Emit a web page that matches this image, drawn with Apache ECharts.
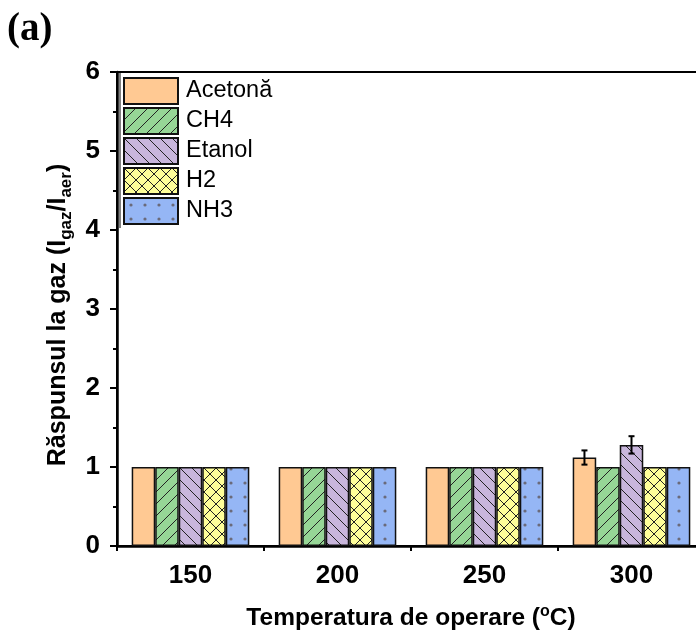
<!DOCTYPE html>
<html>
<head>
<meta charset="utf-8">
<script src="https://cdn.jsdelivr.net/npm/echarts@6/dist/echarts.min.js"></script>
<style>
html,body{margin:0;padding:0;background:#fff;overflow:hidden;width:696px;height:635px;}
#chart{width:720px;height:635px;}
</style>
</head>
<body>
<div id="chart"></div>
<script>
const categories = ['150', '200', '250', '300'];
const seriesNames = ['Acetonă', 'CH4', 'Etanol', 'H2', 'NH3'];
const acetona = [1, 1, 1, 1.12];
const ch4 = [1, 1, 1, 1];
const etanol = [1, 1, 1, 1.28];
const h2 = [1, 1, 1, 1];
const nh3 = [1, 1, 1, 1];
const acetonaErr = [0, 0, 0, 0.09];
const ch4Err = [0, 0, 0, 0];
const etanolErr = [0, 0, 0, 0.11];
const h2Err = [0, 0, 0, 0];
const nh3Err = [0, 0, 0, 0];
const yTicks = [0, 1, 2, 3, 4, 5, 6];

const FONT = 'Liberation Sans, Arial, sans-serif';

function makePattern(bg, type) {
  const s = type === 'dots' ? 14 : 12;
  const c = document.createElement('canvas');
  c.width = s; c.height = s;
  const g = c.getContext('2d');
  g.fillStyle = bg;
  g.fillRect(0, 0, s, s);
  g.strokeStyle = '#222';
  g.lineWidth = 1;
  if (type === 'fwd' || type === 'cross') {
    g.beginPath();
    for (let k = -1; k <= 1; k++) { g.moveTo(k * s, s); g.lineTo(k * s + s, 0); }
    g.stroke();
  }
  if (type === 'back' || type === 'cross') {
    g.beginPath();
    for (let k = -1; k <= 1; k++) { g.moveTo(k * s, 0); g.lineTo(k * s + s, s); }
    g.stroke();
  }
  if (type === 'dots') {
    g.fillStyle = '#6a6a7a';
    g.beginPath();
    g.arc(s / 2, s / 2, 1.6, 0, Math.PI * 2);
    g.fill();
  }
  return { image: c, repeat: 'repeat' };
}

const fills = [
  '#FFC993',
  makePattern('#96D696', 'fwd'),
  makePattern('#C8B6DC', 'back'),
  makePattern('#FFFF99', 'cross'),
  makePattern('#95B6F5', 'dots')
];
const values = [acetona, ch4, etanol, h2, nh3];
const errs = [acetonaErr, ch4Err, etanolErr, h2Err, nh3Err];

const errData = [];
errs.forEach((arr, si) => arr.forEach((e, ci) => {
  if (e > 0) errData.push([ci, si, values[si][ci], e]);
}));

const barSeries = seriesNames.map((name, i) => ({
  name: name,
  type: 'bar',
  data: values[i],
  barGap: '0%',
  barCategoryGap: '20%',
  itemStyle: { color: fills[i], borderColor: '#111', borderWidth: 1.5 },
  emphasis: { disabled: true },
  animation: false
}));

const errSeries = {
  type: 'custom',
  data: errData,
  xAxisIndex: 0,
  yAxisIndex: 0,
  z: 10,
  animation: false,
  renderItem: function (params, api) {
    const ci = api.value(0), si = api.value(1), v = api.value(2), e = api.value(3);
    const band = api.size([1, 0])[0];
    const bw = band * 0.8 / 5;
    const cx = api.coord([ci, 0])[0] - band * 0.4 + (si + 0.5) * bw;
    const yt = api.coord([ci, v + e])[1];
    const yb = api.coord([ci, v - e])[1];
    const st = { stroke: '#000', lineWidth: 2 };
    return {
      type: 'group',
      children: [
        { type: 'line', shape: { x1: cx, y1: yt, x2: cx, y2: yb }, style: st },
        { type: 'line', shape: { x1: cx - 3, y1: yt, x2: cx + 3, y2: yt }, style: st },
        { type: 'line', shape: { x1: cx - 3, y1: yb, x2: cx + 3, y2: yb }, style: st }
      ]
    };
  }
};

const chart = echarts.init(document.getElementById('chart'), null, { renderer: 'canvas' });
chart.setOption({
  backgroundColor: '#fff',
  animation: false,
  textStyle: { fontFamily: FONT },
  grid: { left: 117, top: 72, width: 588, height: 474, show: true, borderColor: '#000', borderWidth: 2, backgroundColor: 'transparent', containLabel: false, outerBoundsMode: 'none' },
  legend: {
    data: seriesNames,
    orient: 'vertical',
    left: 123,
    top: 77,
    padding: 0,
    itemWidth: 54,
    itemHeight: 26,
    itemGap: 2,
    icon: 'rect',
    textStyle: { fontFamily: FONT, fontSize: 23.5, color: '#000', lineHeight: 26, padding: [0, 0, 0, 3] },
    selectedMode: false
  },
  xAxis: [
    {
      type: 'category',
      data: categories,
      position: 'bottom',
      axisLine: { lineStyle: { color: '#000', width: 2.5 } },
      axisTick: { alignWithLabel: true, length: 10, lineStyle: { color: '#000', width: 2 } },
      axisLabel: { fontFamily: FONT, fontSize: 26, fontWeight: 'bold', color: '#000', margin: 17 },
      name: 'Temperatura de operare ({sup|o}C)',
      nameLocation: 'middle',
      nameGap: 58,
      nameTextStyle: {
        fontFamily: FONT, fontSize: 24.5, fontWeight: 'bold', color: '#000',
        rich: { sup: { fontFamily: FONT, fontSize: 16, fontWeight: 'bold', color: '#000', verticalAlign: 'top', lineHeight: 28 } }
      },
      splitLine: { show: false }
    },
    {
      type: 'category',
      data: categories,
      position: 'bottom',
      axisLine: { show: false },
      axisTick: { show: true, length: 5, lineStyle: { color: '#000', width: 2 } },
      axisLabel: { show: false },
      splitLine: { show: false }
    }
  ],
  yAxis: {
    type: 'value',
    min: 0,
    max: 6,
    interval: 1,
    axisLine: { show: true, lineStyle: { color: '#000', width: 2.5 } },
    axisTick: { show: true, length: 7, lineStyle: { color: '#000', width: 2 } },
    minorTick: { show: true, splitNumber: 2, length: 4, lineStyle: { color: '#000', width: 2 } },
    axisLabel: { fontFamily: FONT, fontSize: 26, fontWeight: 'bold', color: '#000', margin: 17,
      formatter: v => (yTicks.indexOf(v) >= 0 ? String(v) : '') },
    splitLine: { show: false },
    name: 'Răspunsul la gaz (I{sub|gaz}/I{sub|aer})',
    nameLocation: 'middle',
    nameGap: 39,
    nameTextStyle: {
      fontFamily: FONT, fontSize: 25, fontWeight: 'bold', color: '#000',
      padding: [0, 12, 0, 0],
      rich: { sub: { fontFamily: FONT, fontSize: 17, fontWeight: 'bold', color: '#000', verticalAlign: 'bottom', lineHeight: 33 } }
    }
  },
  graphic: [
    { type: 'text', left: 7, top: 10, style: { text: '(a)', font: 'bold 39px "Liberation Serif", "Times New Roman", serif', fill: '#000' } },
    { type: 'line', shape: { x1: 120, y1: 72, x2: 120, y2: 228 }, style: { stroke: '#000', lineWidth: 1 } }
  ],
  series: barSeries.concat([errSeries])
});
</script>
</body>
</html>
